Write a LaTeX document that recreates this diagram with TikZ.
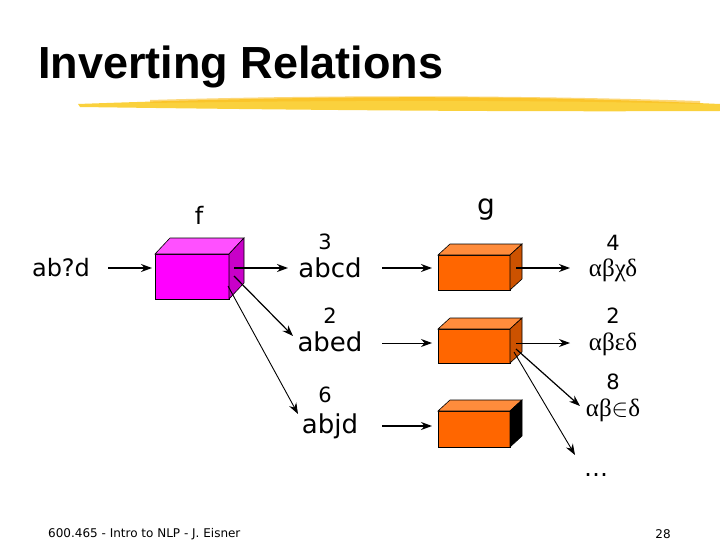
\documentclass[tikz,border=0pt]{standalone}
\usepackage{fontspec}
\setmainfont{DejaVu Sans}
\newfontfamily\titlefont{Liberation Sans}
\newfontfamily\greekfont{Liberation Serif}
\usetikzlibrary{arrows.meta}
\definecolor{mag}{RGB}{255,0,255}
\definecolor{magtop}{RGB}{255,80,255}
\definecolor{magside}{RGB}{200,0,200}
\definecolor{orf}{RGB}{255,102,0}
\definecolor{ortop}{RGB}{255,140,60}
\definecolor{orside}{RGB}{204,82,0}
\definecolor{brush}{RGB}{250,205,40}
\begin{document}
\begin{tikzpicture}[x=1pt,y=-1pt,
  arr/.style={-{Stealth[length=11pt,width=8pt]},line width=1.2pt},
  lbl/.style={font=\fontsize{24}{26}\selectfont,inner sep=0pt},
  num/.style={font=\fontsize{21}{23}\selectfont,inner sep=0pt},
  grk/.style={font=\greekfont\fontsize{25}{27}\selectfont,inner sep=0pt}]
\useasboundingbox (0,0) rectangle (720,540);
\fill[white] (0,0) rectangle (720,540);
% title
\node[anchor=west,font=\titlefont\bfseries\fontsize{45}{49}\selectfont,inner sep=0pt] (title) at (38,67) {Inverting Relations};
\fill[brush, opacity=0.9] (78,104) .. controls (300,96) and (500,94) .. (720,104) -- (720,111) .. controls (500,112) and (300,110) .. (80,107) -- cycle;
\fill[brush!80!orange, opacity=0.6] (150,100) .. controls (350,94) and (550,96) .. (700,101) -- (700,104) .. controls (550,100) and (350,100) .. (150,103) -- cycle;
% cubes
\newcommand{\mycube}[9]{% x1 y1 x2 y2 dx dy front top side
  \filldraw[fill=#7,draw=black,line width=0.6pt] (#1,#2) rectangle (#3,#4);
  \filldraw[fill=#8,draw=black,line width=0.6pt] (#1,#2) -- ++(#5,-#6) -- (#3+#5,#2-#6) -- (#3,#2) -- cycle;
  \filldraw[fill=#9,draw=black,line width=0.6pt] (#3,#2) -- (#3+#5,#2-#6) -- (#3+#5,#4-#6) -- (#3,#4) -- cycle;}
\mycube{155}{254}{229}{299}{15}{16}{mag}{magtop}{magside}
\mycube{438}{255}{510}{290}{12}{11}{orf}{ortop}{orside}
\mycube{438}{329}{510}{363}{12}{11}{orf}{ortop}{orside}
\mycube{438}{411}{510}{447}{12}{11}{orf}{ortop}{black}
\coordinate (fA) at (234,268);
\coordinate (fB) at (234,276);
\coordinate (fC) at (228,286);
\coordinate (g1) at (516,268);
\coordinate (g2) at (516,343);
\coordinate (g2b) at (516,349);
\coordinate (g2c) at (514,352);
% labels
\node[lbl] (f) at (199,215) {f};
\node[lbl,font=\fontsize{28}{30}\selectfont] (g) at (486,210) {g};
\node[lbl] (in) at (61,268) {ab?d};
\node[num] (n3) at (325,242) {3};
\node[lbl,font=\fontsize{26}{28}\selectfont] (w1) at (330,268) {abcd};
\node[num] (n2) at (330,316) {2};
\node[lbl,font=\fontsize{26}{28}\selectfont] (w2) at (330,342) {abed};
\node[num] (n6) at (325,395) {6};
\node[lbl,font=\fontsize{26}{28}\selectfont] (w3) at (330,426) {abjd};
\node[num] (r4) at (613,243) {4};
\node[grk] (o1) at (613,270) {αβχδ};
\node[num] (r2) at (613,316) {2};
\node[grk] (o2) at (613,344) {αβεδ};
\node[num] (r8) at (613,382) {8};
\node[grk] (o3) at (613,410) {αβ$\in$δ};
\node[lbl] (dots) at (596,475) {\dots};
\node[font=\fontsize{12}{14}\selectfont,anchor=west,inner sep=0pt] (foot) at (48,534) {600.465 - Intro to NLP - J. Eisner};
\node[font=\fontsize{12}{14}\selectfont,inner sep=0pt] (pg) at (663,534) {28};
% arrows
\draw[arr] (108,268) -- (152,268);
\draw[arr] (fA) -- (288,268);
\draw[arr] (fB) -- (293,336);
\draw[arr,line width=0.9pt] (fC) -- (298,414);
\draw[arr] (382,268) -- (432,268);
\draw[arr,line width=0.9pt] (382,343) -- (432,343);
\draw[arr] (382,426) -- (432,426);
\draw[arr] (g1) -- (570,268);
\draw[arr,line width=0.9pt] (g2) -- (570,343);
\draw[arr] (g2b) -- (580,406);
\draw[arr,line width=0.9pt] (g2c) -- (575,455);
\end{tikzpicture}
\end{document}
